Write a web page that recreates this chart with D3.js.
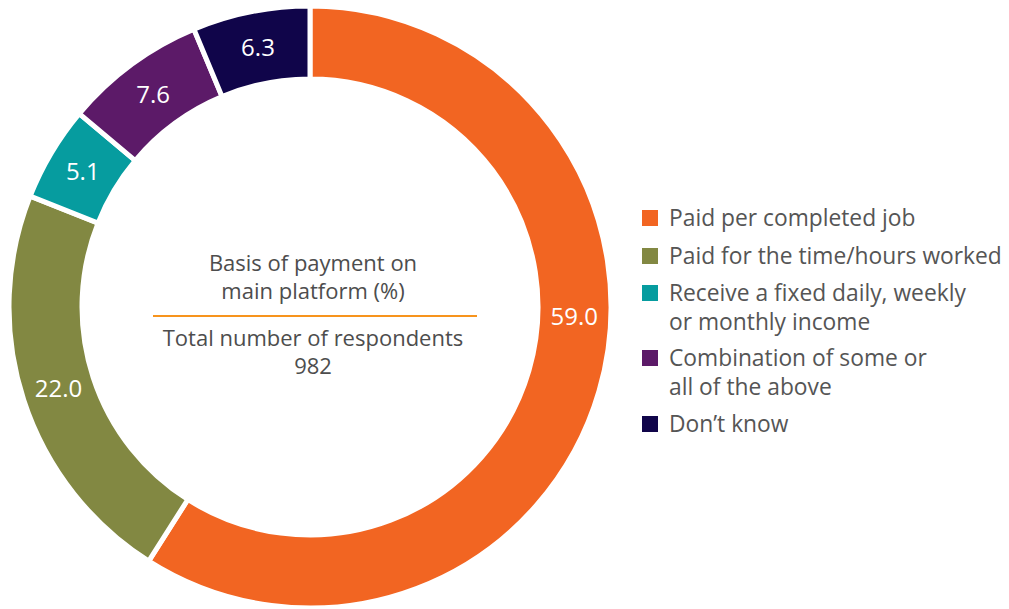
<!DOCTYPE html>
<html><head><meta charset="utf-8">
<script src="https://cdn.jsdelivr.net/npm/d3@7"></script>
<style>body{margin:0;background:#fff}svg{display:block}</style>
</head><body>
<svg id="chart" width="1009" height="609"></svg>
<script>
const categories = ["Paid per completed job","Paid for the time/hours worked","Receive a fixed daily, weekly or monthly income","Combination of some or all of the above","Don\u2019t know"];
const legendLines = [["Paid per completed job"],["Paid for the time/hours worked"],["Receive a fixed daily, weekly","or monthly income"],["Combination of some or","all of the above"],["Don\u2019t know"]];
const values = [59.0, 22.0, 5.1, 7.6, 6.3];
const colors = ["#f26522","#828842","#069c9f","#5c1a68","#10054a"];
const centerTitle = ["Basis of payment on","main platform (%)"];
const centerSub = ["Total number of respondents","982"];

const svg = d3.select("#chart");
const cx = 310, cy = 307, rOuter = 301, rInner = 228;
const font = "'Open Sans', sans-serif";
const g = svg.append("g").attr("transform",`translate(${cx},${cy})`);
const pie = d3.pie().sort(null).value(d=>d);
const arcs = pie(values);
const arc = d3.arc().innerRadius(rInner).outerRadius(rOuter);
g.selectAll("path").data(arcs).join("path")
  .attr("d", arc).attr("fill",(d,i)=>colors[i])
  .attr("stroke","#fff").attr("stroke-width",5).attr("stroke-linejoin","miter");

const rMid = (rInner+rOuter)/2;
g.selectAll("text.val").data(arcs).join("text").attr("class","val")
  .attr("transform",(d,i)=>{
    let a = i===0 ? 92*Math.PI/180 : (d.startAngle+d.endAngle)/2;
    return `translate(${Math.sin(a)*rMid},${-Math.cos(a)*rMid})`;
  })
  .attr("text-anchor","middle").attr("dy","0.36em")
  .attr("fill","#fff").attr("font-family",font).attr("font-size",24)
  .text(d=>d.value.toFixed(1));

// center text
const ct = svg.append("g").attr("font-family",font).attr("font-size",22).attr("fill","#4d4d4d").attr("text-anchor","middle");
centerTitle.forEach((t,i)=>ct.append("text").attr("x",313).attr("y",271+i*28).text(t));
svg.append("line").attr("x1",153).attr("x2",477).attr("y1",316).attr("y2",316).attr("stroke","#f7941d").attr("stroke-width",2);
centerSub.forEach((t,i)=>ct.append("text").attr("x",313).attr("y",346+i*28).text(t));

// legend
const rowY = [218,256,293,358,424];
const lg = svg.append("g").attr("font-family",font).attr("font-size",22.8).attr("fill","#555");
legendLines.forEach((lines,i)=>{
  lg.append("rect").attr("x",642).attr("y",rowY[i]-8).attr("width",16).attr("height",16).attr("fill",colors[i]);
  lines.forEach((t,j)=>lg.append("text").attr("x",669).attr("y",rowY[i]+j*29).attr("dy","0.35em").text(t));
});
</script>
</body></html>
